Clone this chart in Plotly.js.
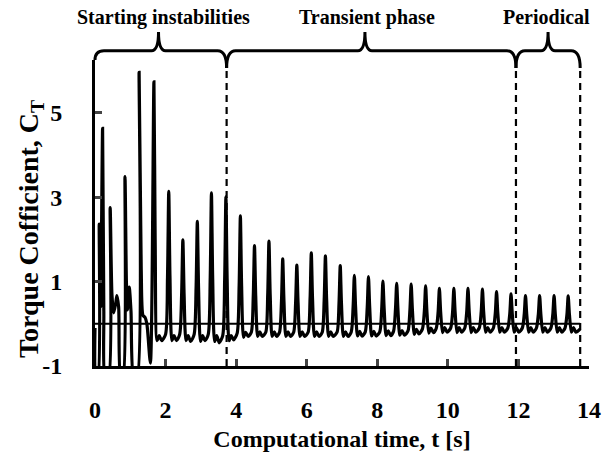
<!DOCTYPE html>
<html>
<head>
<meta charset="utf-8">
<script src="https://cdn.plot.ly/plotly-3.0.1.min.js"></script>
<style>html,body{margin:0;padding:0;background:#fff;}#chart{width:603px;height:452px;}</style>
</head>
<body>
<div id="chart"></div>
<script>
// ---- data ----
var time = [
  0.00, 0.03, 0.08, 0.12, 0.16, 0.215, 0.25, 0.29, 0.38, 0.43, 0.48, 0.53, 0.59, 0.62, 0.67, 0.73, 0.79, 0.85, 0.89, 0.92, 0.97, 1.02, 1.10, 1.19, 1.25, 1.31, 1.36, 1.42, 1.47, 1.57,
  1.67, 1.705, 1.76, 1.82, 1.89, 2.00, 2.055,
  2.09, 2.125, 2.18, 2.24, 2.31, 2.40, 2.455,
  2.49, 2.525, 2.58, 2.64, 2.71, 2.81, 2.865,
  2.90, 2.935, 2.99, 3.05, 3.12, 3.21, 3.265,
  3.30, 3.335, 3.39, 3.45, 3.52, 3.62, 3.675,
  3.71, 3.745, 3.80, 3.86, 3.93, 4.03, 4.085,
  4.12, 4.155, 4.21, 4.27, 4.34, 4.43, 4.485,
  4.52, 4.555, 4.61, 4.67, 4.74, 4.84, 4.895,
  4.93, 4.965, 5.02, 5.08, 5.15, 5.23, 5.285,
  5.32, 5.355, 5.41, 5.47, 5.54, 5.63, 5.685,
  5.72, 5.755, 5.81, 5.87, 5.94, 6.04, 6.095,
  6.13, 6.165, 6.22, 6.28, 6.35, 6.44, 6.495,
  6.53, 6.565, 6.62, 6.68, 6.75, 6.86, 6.915,
  6.95, 6.985, 7.04, 7.10, 7.17, 7.26, 7.315,
  7.35, 7.385, 7.44, 7.50, 7.57, 7.66, 7.715,
  7.75, 7.785, 7.84, 7.90, 7.97, 8.07, 8.125,
  8.16, 8.195, 8.25, 8.31, 8.38, 8.46, 8.515,
  8.55, 8.585, 8.64, 8.70, 8.77, 8.87, 8.925,
  8.96, 8.995, 9.05, 9.11, 9.18, 9.28, 9.335,
  9.37, 9.405, 9.46, 9.52, 9.59, 9.67, 9.725,
  9.76, 9.795, 9.85, 9.91, 9.98, 10.08, 10.135,
  10.17, 10.205, 10.26, 10.32, 10.39, 10.48, 10.535,
  10.57, 10.605, 10.66, 10.72, 10.79, 10.89, 10.945,
  10.98, 11.015, 11.07, 11.13, 11.20, 11.29, 11.345,
  11.38, 11.415, 11.47, 11.53, 11.60, 11.70, 11.755,
  11.79, 11.825, 11.88, 11.94, 12.01, 12.11, 12.165,
  12.20, 12.235, 12.29, 12.35, 12.42, 12.51, 12.565,
  12.60, 12.635, 12.69, 12.75, 12.82, 12.92, 12.975,
  13.01, 13.045, 13.10, 13.16, 13.23, 13.32, 13.375,
  13.41, 13.445, 13.50, 13.56, 13.63, 13.75
];
var torque = [
  -0.10, -1.30, -1.30, 2.36, 0.40, 4.63, 0.30, -1.30, -1.30, 2.75, 0.70, 0.26, 0.50, 0.67, 0.40, -1.30, -1.30, 3.49, 1.00, 0.33, 0.87, 0.30, -1.30, -1.30, 5.96, 1.30, 0.20, 0.15, 0.00, -0.93,
  5.73, 2.00, -0.40, -0.28, -0.40, -0.25, 1.10,
  3.14, 1.10, -0.40, -0.28, -0.40, -0.25, 0.70,
  1.99, 0.70, -0.40, -0.28, -0.42, -0.25, 0.85,
  2.43, 0.85, -0.42, -0.28, -0.40, -0.25, 1.08,
  3.10, 1.08, -0.42, -0.28, -0.45, -0.28, 1.05,
  3.01, 1.05, -0.40, -0.28, -0.38, -0.22, 0.90,
  2.56, 0.90, -0.32, -0.20, -0.30, -0.20, 0.65,
  1.85, 0.65, -0.30, -0.19, -0.30, -0.20, 0.69,
  1.96, 0.69, -0.30, -0.19, -0.30, -0.20, 0.54,
  1.54, 0.54, -0.30, -0.19, -0.30, -0.20, 0.49,
  1.39, 0.49, -0.30, -0.19, -0.30, -0.20, 0.59,
  1.68, 0.59, -0.30, -0.19, -0.30, -0.20, 0.56,
  1.61, 0.56, -0.30, -0.19, -0.30, -0.20, 0.48,
  1.38, 0.48, -0.30, -0.19, -0.30, -0.20, 0.40,
  1.15, 0.40, -0.29, -0.18, -0.29, -0.19, 0.39,
  1.12, 0.39, -0.29, -0.18, -0.29, -0.19, 0.35,
  1.01, 0.35, -0.28, -0.17, -0.28, -0.18, 0.34,
  0.96, 0.34, -0.27, -0.16, -0.27, -0.17, 0.33,
  0.94, 0.33, -0.25, -0.13, -0.24, -0.12, 0.31,
  0.90, 0.31, -0.22, -0.10, -0.21, -0.11, 0.29,
  0.84, 0.29, -0.21, -0.09, -0.20, -0.10, 0.29,
  0.84, 0.29, -0.21, -0.09, -0.20, -0.10, 0.29,
  0.84, 0.29, -0.21, -0.09, -0.20, -0.10, 0.28,
  0.82, 0.28, -0.20, -0.09, -0.20, -0.10, 0.26,
  0.76, 0.26, -0.20, -0.09, -0.20, -0.10, 0.24,
  0.71, 0.24, -0.20, -0.09, -0.20, -0.10, 0.23,
  0.67, 0.23, -0.20, -0.09, -0.20, -0.10, 0.23,
  0.67, 0.23, -0.20, -0.09, -0.20, -0.10, 0.23,
  0.67, 0.23, -0.20, -0.09, -0.20, -0.10, 0.22,
  0.66, 0.22, -0.20, -0.09, -0.20, -0.12
];
var refLineX = [0, 13.75];
var refLineY = [0, 0];
var xTicks = [0, 2, 4, 6, 8, 10, 12, 14];
var yTicks = [-1, 1, 3, 5];
var yTickText = ['-1', '1', '3', '5'];
var phaseNames = ['Starting instabilities', 'Transient phase', 'Periodical'];
var phaseBounds = [0, 3.73, 11.93, 13.75];
var braceTips = [1.80, 7.65, 12.84];
var labelX = [1.95, 7.70, 12.80];
var yTitle = 'Torque Cofficient, C<sub>T</sub>';
var xTitle = 'Computational time, t [s]';

// ---- layout geometry ----
var W = 603, H = 452;
var M = {l: 95, r: 14, t: 60, b: 86};
var xRange = [0, 14], yRange = [-1, 6.25];
var plotW = W - M.l - M.r, plotH = H - M.t - M.b;
function px(x) { return (x - xRange[0]) / (xRange[1] - xRange[0]); }
function pyPaper(pix) { return (H - M.b - pix) / plotH; }
function pxPaper(pix) { return (pix - M.l) / plotW; }
function dxPaper(d) { return d / plotW; }

var FONT = 'Liberation Serif, Times New Roman, serif';
var yH = pyPaper(50.7), yTip = pyPaper(32), yEnd0 = pyPaper(60), yEnd = pyPaper(68);
var rE = dxPaper(9), rT = dxPaper(7);

var shapes = [];
for (var i = 0; i < phaseNames.length; i++) {
  var a = px(phaseBounds[i]), b = px(phaseBounds[i + 1]), m = px(braceTips[i]);
  var ya = (i === 0) ? yEnd0 : yEnd;
  var p = 'M ' + a + ',' + ya +
    ' Q ' + a + ',' + yH + ' ' + (a + rE) + ',' + yH +
    ' L ' + (m - rT) + ',' + yH +
    ' Q ' + m + ',' + yH + ' ' + m + ',' + yTip +
    ' Q ' + m + ',' + yH + ' ' + (m + rT) + ',' + yH +
    ' L ' + (b - rE) + ',' + yH +
    ' Q ' + b + ',' + yH + ' ' + b + ',' + yEnd;
  shapes.push({type: 'path', xref: 'paper', yref: 'paper', path: p,
    line: {color: 'black', width: 3}});
}
for (var j = 1; j < phaseBounds.length; j++) {
  shapes.push({type: 'line', xref: 'x', yref: 'paper',
    x0: phaseBounds[j], x1: phaseBounds[j], y0: 0, y1: yEnd,
    line: {color: 'black', width: 2.2, dash: '7px,5px'}});
}

var annotations = phaseNames.map(function (n, k) {
  return {text: n, xref: 'x', yref: 'paper', x: labelX[k], y: pyPaper(17),
    xanchor: 'center', yanchor: 'middle', showarrow: false,
    font: {family: FONT, size: 20, color: 'black', weight: 'bold'}};
});
annotations.push({text: yTitle, xref: 'paper', yref: 'paper',
  x: pxPaper(30), y: pyPaper(229), xanchor: 'center', yanchor: 'middle',
  textangle: -90, showarrow: false,
  font: {family: FONT, size: 28, color: 'black', weight: 'bold'}});

var traces = [
  {x: refLineX, y: refLineY, type: 'scatter', mode: 'lines',
   line: {color: 'black', width: 2}, hoverinfo: 'skip', showlegend: false},
  {x: time, y: torque, type: 'scatter', mode: 'lines',
   line: {color: 'black', width: 3.2, shape: 'spline', smoothing: 0.7}, showlegend: false}
];

var layout = {
  width: W, height: H, margin: M,
  paper_bgcolor: 'white', plot_bgcolor: 'white',
  showlegend: false,
  font: {family: FONT, color: 'black'},
  xaxis: {
    range: xRange, tickvals: xTicks, ticks: 'inside', ticklen: 7, tickwidth: 3,
    showline: true, linewidth: 3, linecolor: 'black', showgrid: false, zeroline: false,
    tickfont: {family: FONT, size: 24, color: 'black', weight: 'bold'},
    ticklabelstandoff: 20,
    title: {text: xTitle, standoff: 16,
      font: {family: FONT, size: 24, color: 'black', weight: 'bold'}}
  },
  yaxis: {
    range: yRange, tickvals: yTicks, ticktext: yTickText, ticks: 'inside', ticklen: 7, tickwidth: 3,
    showline: true, linewidth: 3, linecolor: 'black', showgrid: false, zeroline: false,
    tickfont: {family: FONT, size: 24, color: 'black', weight: 'bold'},
    ticklabelstandoff: 25
  },
  shapes: shapes,
  annotations: annotations
};

Plotly.newPlot('chart', traces, layout, {staticPlot: true, displayModeBar: false});
</script>
</body>
</html>
